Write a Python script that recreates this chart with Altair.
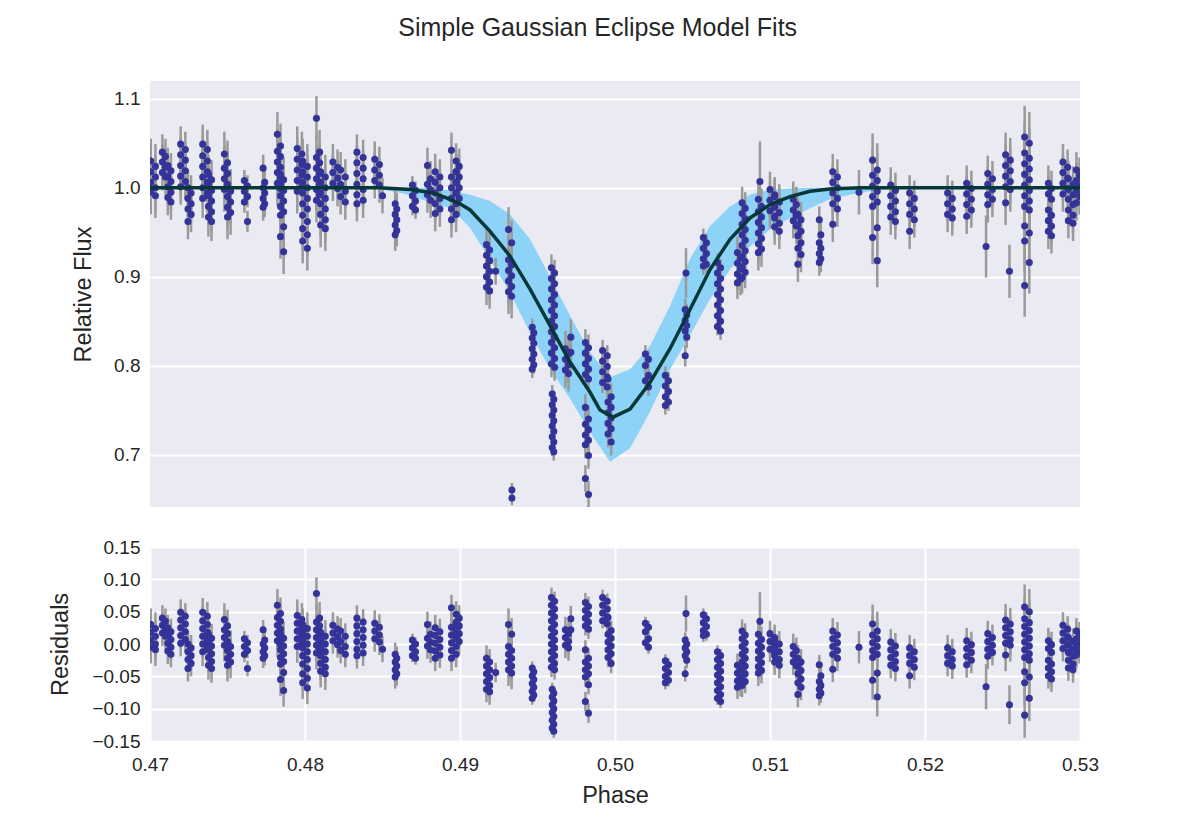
import altair as alt
import pandas as pd

# ---- data ----
cluster_phase = [
    0.4702, 0.4709, 0.47125, 0.47213, 0.47255, 0.47355, 0.47387, 0.4749, 0.4751, 0.47619,
    0.47735, 0.47832, 0.47852, 0.47965, 0.48000, 0.48084, 0.48116, 0.48195, 0.48245, 0.48355,
    0.48465, 0.48500, 0.48587, 0.48703, 0.48800, 0.48855, 0.48960, 0.48985, 0.49181, 0.49230,
    0.49323, 0.49335, 0.49471, 0.49600, 0.49600, 0.49690, 0.49715, 0.49819, 0.49935, 0.49965,
    0.50206, 0.50335, 0.50458, 0.50458, 0.50580, 0.50671, 0.50800, 0.50830, 0.50935, 0.50935,
    0.51015, 0.51045, 0.51160, 0.51190, 0.51323, 0.51420, 0.51574, 0.51677, 0.51794, 0.51916,
    0.52161, 0.52284, 0.52394, 0.52420, 0.52535, 0.52545, 0.52658, 0.52806, 0.52905, 0.52940,
    0.52987,
]
# horizontal spread of each column of points (phase units)
cluster_width = [
    0.0003, 0.0002, 0.0002, 0.0003, 0.0002, 0.0003, 0.0002, 0.0002, 0.0002, 0.0002,
    0.0001, 0.0002, 0.0002, 0.0003, 0.0003, 0.0002, 0.0003, 0.0003, 0.0003, 0.0004,
    0.0003, 0.0, 0.0001, 0.0002, 0.0002, 0.0003, 0.0003, 0.0002, 0.0002, 0.0,
    0.0002, 0.0, 0.0001, 0.0002, 0.0001, 0.0002, 0.0, 0.0002, 0.0003, 0.0002,
    0.0002, 0.0002, 0.0, 0.0001, 0.0002, 0.0002, 0.0002, 0.0002, 0.0, 0.0002,
    0.0003, 0.0003, 0.0002, 0.0002, 0.0001, 0.0003, 0.0, 0.0003, 0.0003, 0.0003,
    0.0003, 0.0003, 0.0, 0.0003, 0.0003, 0.0, 0.0003, 0.0002, 0.0003, 0.0003,
    0.0002,
]
cluster_err = [
    0.025, 0.02, 0.02, 0.02, 0.02, 0.022, 0.022, 0.025, 0.025, 0.012,
    0.015, 0.025, 0.025, 0.025, 0.025, 0.025, 0.025, 0.02, 0.02, 0.02,
    0.02, 0.02, 0.018, 0.01, 0.02, 0.02, 0.02, 0.02, 0.02, 0.015,
    0.025, 0.008, 0.01, 0.015, 0.01, 0.02, 0.02, 0.015, 0.012, 0.015,
    0.01, 0.01, 0.028, 0.012, 0.01, 0.01, 0.018, 0.018, 0.045, 0.02,
    0.02, 0.02, 0.02, 0.02, 0.015, 0.02, 0.025, 0.03, 0.02, 0.02,
    0.02, 0.02, 0.035, 0.02, 0.025, 0.03, 0.035, 0.02, 0.02, 0.02,
    0.02,
]
cluster_model = [
    1.0, 1.0, 1.0, 1.0, 1.0, 1.0, 1.0, 1.0, 1.0, 1.0,
    1.0, 1.0, 1.0, 1.0, 1.0, 1.0, 1.0, 1.0, 1.0, 1.0,
    1.0, 0.999, 0.998, 0.997, 0.995, 0.993, 0.986, 0.984, 0.958, 0.950,
    0.923, 0.920, 0.880, 0.838, 0.838, 0.797, 0.793, 0.762, 0.745, 0.744,
    0.781, 0.815, 0.857, 0.857, 0.899, 0.928, 0.960, 0.963, 0.972, 0.972,
    0.982, 0.984, 0.991, 0.992, 0.996, 0.998, 1.0, 1.0, 1.0, 1.0,
    1.0, 1.0, 1.0, 1.0, 1.0, 1.0, 1.0, 1.0, 1.0, 1.0,
    1.0,
]
cluster_flux = [
    [1.030, 1.024, 1.018, 1.012, 1.006, 1.000, 0.995, 0.991],
    [1.040, 1.035, 1.029, 1.023, 1.017, 1.012],
    [1.025, 1.019, 1.013, 1.007, 1.001, 0.995, 0.989, 0.984],
    [1.049, 1.043, 1.037, 1.031, 1.025, 1.019, 1.013, 1.007, 1.001],
    [1.000, 0.994, 0.988, 0.982, 0.976, 0.970, 0.962],
    [1.049, 1.043, 1.036, 1.030, 1.024, 1.018, 1.012, 1.006, 1.000, 0.994, 0.988],
    [1.015, 1.009, 1.003, 0.997, 0.991, 0.985, 0.979, 0.973, 0.967, 0.962],
    [1.038, 1.028, 1.022, 1.016, 1.010, 1.004, 0.998],
    [1.002, 0.996, 0.990, 0.984, 0.978, 0.972, 0.967],
    [1.008, 1.002, 0.996, 0.990, 0.984, 0.962],
    [1.022, 1.006, 1.000, 0.994, 0.988, 0.982, 0.978],
    [1.060, 1.047, 1.041, 1.035, 1.029, 1.023, 1.017, 1.011, 1.005, 0.999],
    [1.015, 1.009, 1.003, 0.997, 0.991, 0.985, 0.979, 0.973, 0.969, 0.956, 0.945, 0.928],
    [1.044, 1.038, 1.032, 1.026, 1.020, 1.014, 1.008, 1.002, 0.996],
    [1.030, 1.024, 1.018, 1.012, 1.006, 1.000, 0.994, 0.988, 0.982, 0.976, 0.969, 0.962, 0.954, 0.947, 0.940, 0.932],
    [1.078, 1.040, 1.034, 1.028, 1.022, 1.016, 1.010, 1.004, 0.998, 0.992, 0.986],
    [1.018, 1.012, 1.006, 1.000, 0.994, 0.988, 0.982, 0.976, 0.970, 0.964, 0.958, 0.954],
    [1.029, 1.023, 1.017, 1.011, 1.005, 0.999],
    [1.020, 1.012, 1.004, 0.996, 0.990, 0.984],
    [1.040, 1.034, 1.028, 1.022, 1.016, 1.010, 1.004, 0.998, 0.992, 0.986, 0.982],
    [1.032, 1.026, 1.020, 1.014, 1.008, 1.003],
    [0.991],
    [0.982, 0.976, 0.970, 0.964, 0.958, 0.952, 0.947],
    [1.003, 0.997, 0.991, 0.985, 0.979, 0.975],
    [1.025, 1.010, 1.004, 0.998, 0.992, 0.986],
    [1.018, 1.012, 1.006, 1.000, 0.994, 0.988, 0.982, 0.976, 0.971],
    [1.042, 1.018, 1.012, 1.006, 1.000, 0.994, 0.988, 0.982, 0.976, 0.970, 0.964],
    [1.030, 1.024, 1.018, 1.012, 1.006, 1.000, 0.994, 0.988],
    [0.936, 0.930, 0.924, 0.918, 0.912, 0.906, 0.900, 0.894, 0.888, 0.884],
    [0.906],
    [0.953, 0.938, 0.919, 0.913, 0.907, 0.901, 0.895, 0.889, 0.883, 0.878],
    [0.660, 0.651],
    [0.843, 0.837, 0.831, 0.825, 0.819, 0.813, 0.807, 0.801, 0.796],
    [0.910, 0.904, 0.898, 0.892, 0.886, 0.880, 0.874, 0.868, 0.862, 0.856, 0.850, 0.844, 0.838, 0.832, 0.826, 0.820, 0.814, 0.808, 0.802, 0.798],
    [0.768, 0.762, 0.756, 0.750, 0.744, 0.738, 0.732, 0.726, 0.720, 0.714, 0.708, 0.703],
    [0.819, 0.813, 0.807, 0.801, 0.795, 0.791],
    [0.832, 0.815],
    [0.826, 0.820, 0.814, 0.808, 0.802, 0.796, 0.790, 0.785, 0.753, 0.740, 0.734, 0.728, 0.722, 0.716, 0.711, 0.699, 0.673, 0.655],
    [0.817, 0.811, 0.805, 0.799, 0.793, 0.787, 0.781, 0.776],
    [0.785, 0.765, 0.759, 0.753, 0.747, 0.741, 0.735, 0.729, 0.723, 0.714],
    [0.813, 0.807, 0.800, 0.789, 0.783, 0.776],
    [0.789, 0.783, 0.777, 0.771, 0.765, 0.759, 0.755],
    [0.904],
    [0.863, 0.857, 0.851, 0.845, 0.839, 0.832, 0.811],
    [0.944, 0.938, 0.932, 0.926, 0.920, 0.914, 0.912],
    [0.916, 0.910, 0.904, 0.898, 0.892, 0.886, 0.880, 0.874, 0.868, 0.862, 0.856, 0.850, 0.844, 0.839],
    [0.927, 0.921, 0.915, 0.909, 0.903, 0.897, 0.893],
    [0.983, 0.977, 0.971, 0.965, 0.959, 0.953, 0.947, 0.941, 0.935, 0.929, 0.923, 0.917, 0.911, 0.905, 0.899],
    [1.007],
    [0.987, 0.979, 0.973, 0.967, 0.961, 0.955, 0.949, 0.943, 0.937, 0.931, 0.927],
    [0.998, 0.992, 0.986, 0.980, 0.974, 0.968],
    [0.990, 0.984, 0.978, 0.972, 0.966, 0.960, 0.956, 0.951],
    [0.987, 0.981, 0.975, 0.969, 0.963, 0.957],
    [0.970, 0.964, 0.958, 0.951, 0.946, 0.938, 0.932, 0.925, 0.914],
    [0.964, 0.947, 0.938, 0.932, 0.926, 0.920, 0.916],
    [1.018, 1.012, 1.006, 1.000, 0.994, 0.988, 0.982, 0.976, 0.959],
    [0.995],
    [1.031, 1.020, 1.014, 1.008, 1.002, 0.996, 0.990, 0.984, 0.979, 0.955, 0.944, 0.918],
    [1.003, 0.997, 0.991, 0.985, 0.979, 0.973, 0.967, 0.962],
    [0.994, 0.988, 0.982, 0.976, 0.970, 0.964, 0.951],
    [0.994, 0.988, 0.982, 0.976, 0.970, 0.966],
    [1.005, 0.999, 0.993, 0.987, 0.981, 0.975, 0.968],
    [0.934],
    [1.016, 1.010, 1.004, 0.998, 0.992, 0.987, 0.981],
    [1.037, 1.031, 1.025, 1.019, 1.013, 1.007, 1.001, 0.998, 0.983],
    [0.906],
    [1.057, 1.050, 1.039, 1.033, 1.027, 1.021, 1.015, 1.009, 1.003, 0.997, 0.991, 0.985, 0.979, 0.975, 0.957, 0.949, 0.940, 0.916, 0.890],
    [1.005, 0.999, 0.993, 0.987, 0.975, 0.969, 0.963, 0.957, 0.951, 0.946],
    [1.029, 1.023, 1.017, 1.011, 1.005, 0.999, 0.993],
    [1.010, 1.004, 0.998, 0.992, 0.987, 0.981, 0.975, 0.969, 0.963, 0.960],
    [1.020, 1.014, 1.008, 1.002, 0.996, 0.990, 0.983],
]

model_phase = [0.4700, 0.4848, 0.4868, 0.4883, 0.4892, 0.4900, 0.49065, 0.49194, 0.49323, 0.49452,
               0.49581, 0.49710, 0.49839, 0.49903, 0.49987, 0.50097, 0.50226, 0.50355, 0.50484, 0.50613,
               0.50742, 0.50871, 0.51000, 0.51129, 0.51258, 0.51387, 0.51581, 0.5300]
model_flux = [1.000, 1.000, 0.998, 0.994, 0.988, 0.982, 0.975, 0.951, 0.923, 0.886,
              0.845, 0.804, 0.770, 0.750, 0.742, 0.751, 0.781, 0.819, 0.863, 0.908,
              0.942, 0.966, 0.981, 0.990, 0.996, 0.9985, 1.000, 1.000]

band_phase = [0.4700, 0.4845, 0.4865, 0.4880, 0.4894, 0.49065, 0.49194, 0.49323, 0.49452, 0.49581,
              0.49710, 0.49839, 0.49968, 0.50097, 0.50226, 0.50355, 0.50484, 0.50613, 0.50742, 0.50871,
              0.51000, 0.51129, 0.51258, 0.51387, 0.51516, 0.51645, 0.5185, 0.5300]
band_lower = [1.000, 0.9995, 0.993, 0.984, 0.977, 0.955, 0.919, 0.882, 0.837, 0.796,
              0.763, 0.725, 0.692, 0.707, 0.748, 0.796, 0.834, 0.875, 0.908, 0.934,
              0.953, 0.966, 0.977, 0.987, 0.992, 0.996, 1.000, 1.000]
band_upper = [1.000, 1.000, 1.000, 1.000, 0.997, 0.992, 0.985, 0.970, 0.942, 0.900,
              0.856, 0.815, 0.787, 0.796, 0.822, 0.867, 0.920, 0.957, 0.979, 0.992,
              0.998, 0.999, 1.000, 1.000, 1.000, 1.000, 1.000, 1.000]

x_ticks = [0.47, 0.48, 0.49, 0.50, 0.51, 0.52, 0.53]
flux_ticks = [0.7, 0.8, 0.9, 1.0, 1.1]
res_ticks = [-0.15, -0.10, -0.05, 0.0, 0.05, 0.10, 0.15]

# ---- tables ----
rows = []
for ph, w, er, md, fl in zip(cluster_phase, cluster_width, cluster_err, cluster_model, cluster_flux):
    for i, f in enumerate(fl):
        p = ph - w / 2 if i % 2 == 0 else ph + w / 2
        r = f - md
        rows.append(dict(phase=p, flux=f, lo=f - er, hi=f + er, res=r, rlo=r - er, rhi=r + er))
pts = pd.DataFrame(rows)
model_df = pd.DataFrame(dict(phase=model_phase, flux=model_flux))
band_df = pd.DataFrame(dict(phase=band_phase, lower=band_lower, upper=band_upper))

FONT = "Liberation Sans"
PT_COLOR = "#333399"
ERR_COLOR = "#9a9a9a"
PT_SIZE = 50

xs = alt.Scale(domain=[0.47, 0.53], nice=False, zero=False)
ys_top = alt.Scale(domain=[0.641, 1.12], nice=False, zero=False)
ys_bot = alt.Scale(domain=[-0.15, 0.15], nice=False, zero=False)

x_top = alt.X("phase:Q", scale=xs, axis=None)
y_axis_top = alt.Axis(values=flux_ticks, format=".1f", title="Relative Flux", titlePadding=18,
                      tickCount=12)

band = alt.Chart(band_df).mark_area(color="#8DD2F7", opacity=1, clip=True).encode(
    x=x_top, y=alt.Y("lower:Q", scale=ys_top, axis=y_axis_top), y2="upper:Q")
err_top = alt.Chart(pts).mark_rule(color=ERR_COLOR, strokeWidth=2.5, clip=True).encode(
    x=x_top, y=alt.Y("lo:Q", scale=ys_top), y2="hi:Q")
dots_top = alt.Chart(pts).mark_circle(color=PT_COLOR, size=PT_SIZE, opacity=1, clip=True).encode(
    x=x_top, y=alt.Y("flux:Q", scale=ys_top))
line = alt.Chart(model_df).mark_line(color="#063838", strokeWidth=3.5, clip=True).encode(
    x=x_top, y=alt.Y("flux:Q", scale=ys_top))

top = alt.layer(band, err_top, dots_top, line).properties(width=930, height=426)

x_bot = alt.X("phase:Q", scale=xs,
              axis=alt.Axis(values=x_ticks, format=".2f", title="Phase", grid=True,
                            labelPadding=14, titlePadding=9, labelFlush=False,
                            labelOverlap=False, tickCount=12))
y_axis_bot = alt.Axis(values=res_ticks, format=".2f", title="Residuals", titlePadding=19,
                      labelOverlap=False, labelFlush=False, tickCount=12)

err_bot = alt.Chart(pts).mark_rule(color=ERR_COLOR, strokeWidth=2.5, clip=True).encode(
    x=x_bot, y=alt.Y("rlo:Q", scale=ys_bot, axis=y_axis_bot), y2="rhi:Q")
dots_bot = alt.Chart(pts).mark_circle(color=PT_COLOR, size=PT_SIZE, opacity=1, clip=True).encode(
    x=x_bot, y=alt.Y("res:Q", scale=ys_bot))

bottom = alt.layer(err_bot, dots_bot).properties(width=930, height=194)

chart = alt.vconcat(top, bottom, spacing=31).properties(
    title=alt.TitleParams("Simple Gaussian Eclipse Model Fits", fontSize=25, font=FONT,
                          fontWeight="normal", color="#262626", anchor="middle", offset=40,
                          dx=24),
    padding={"left": 48, "top": 16, "right": 5, "bottom": 5},
    background="white",
).configure_view(
    fill="#EAEAF2", stroke=None
).configure_axis(
    grid=True, gridColor="white", gridWidth=2, domain=False, ticks=False,
    labelFont=FONT, labelFontSize=19, labelColor="#262626", labelPadding=10,
    titleFont=FONT, titleFontSize=23.5, titleFontWeight="normal", titleColor="#262626",
)

chart.save("out.html", embed_options={"renderer": "svg", "actions": False})
